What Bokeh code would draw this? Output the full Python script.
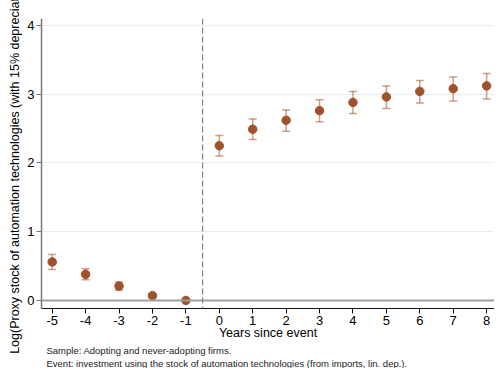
from bokeh.plotting import figure
from bokeh.models import Range1d, Whisker, ColumnDataSource, Span, Title, FixedTicker
from bokeh.embed import file_html
from bokeh.resources import INLINE

years = [-5, -4, -3, -2, -1, 0, 1, 2, 3, 4, 5, 6, 7, 8]
coef = [0.56, 0.38, 0.21, 0.07, 0.0, 2.25, 2.49, 2.62, 2.76, 2.88, 2.96, 3.04, 3.08, 3.12]
ci_low = [0.45, 0.30, 0.15, 0.04, 0.0, 2.10, 2.34, 2.46, 2.60, 2.72, 2.79, 2.87, 2.90, 2.93]
ci_high = [0.67, 0.46, 0.27, 0.09, 0.0, 2.40, 2.64, 2.77, 2.92, 3.04, 3.12, 3.20, 3.25, 3.30]
x_ticks = list(range(-5, 9))
x_tick_labels = [str(t) for t in x_ticks]
y_ticks = [0, 1, 2, 3, 4]

FONT = "Liberation Sans"
MARK = "#A0522D"

src = ColumnDataSource(dict(x=years, y=coef, lo=ci_low, hi=ci_high))

p = figure(width=494, height=368, output_backend="svg", toolbar_location=None,
           x_range=Range1d(-5.32, 8.235), y_range=Range1d(-0.117, 4.1),
           min_border_left=41, min_border_right=0, min_border_top=18, min_border_bottom=10)
p.outline_line_color = None
p.background_fill_color = "white"
p.border_fill_color = "white"

# gridlines
p.xgrid.visible = False
p.ygrid.ticker = FixedTicker(ticks=[1, 2, 3, 4])
p.ygrid.grid_line_color = "#E6EFEF"
p.ygrid.grid_line_width = 1

# reference lines
p.add_layout(Span(location=0, dimension="width", line_color="#A0A0A0", line_width=2))
p.add_layout(Span(location=-0.5, dimension="height", line_color="#808080", line_width=1.2,
                  line_dash="6 3"))

w = Whisker(base="x", upper="hi", lower="lo", source=src, line_color=MARK, line_alpha=0.55,
            line_width=1.5)
w.upper_head.size = 8
w.lower_head.size = 8
w.upper_head.line_color = MARK
w.lower_head.line_color = MARK
w.upper_head.line_alpha = 0.55
w.lower_head.line_alpha = 0.55
w.upper_head.line_width = 1.5
w.lower_head.line_width = 1.5
p.add_layout(w)

p.scatter("x", "y", source=src, size=8.5, color=MARK)

# axes
p.xaxis.ticker = FixedTicker(ticks=x_ticks)
p.xaxis.major_label_overrides = dict(zip(x_ticks, x_tick_labels))
p.yaxis.ticker = FixedTicker(ticks=y_ticks)
p.xaxis.axis_label = "Years since event"
p.yaxis.axis_label = "Log(Proxy stock of automation technologies (with 15% depreciation))"
for ax in (p.xaxis[0], p.yaxis[0]):
    ax.major_label_text_font = FONT
    ax.major_label_text_font_size = "13px"
    ax.major_label_text_color = "#000000"
    ax.axis_label_text_font = FONT
    ax.axis_label_text_font_size = "12.5px"
    ax.axis_label_text_font_style = "normal"
    ax.axis_label_text_color = "#000000"
    ax.minor_tick_line_color = None
    ax.major_tick_out = 5
    ax.major_tick_in = 0
    ax.major_label_standoff = 2
    ax.axis_label_standoff = 2
p.xaxis.axis_line_color = "#111111"
p.xaxis.major_tick_line_color = "#111111"
p.xaxis.major_label_standoff = 2
p.xaxis.axis_label_standoff = -2
p.yaxis.axis_line_color = "#777777"
p.yaxis.axis_line_width = 1.5
p.yaxis.major_tick_line_color = "#777777"
p.yaxis.major_label_orientation = "horizontal"

# notes below
note1 = Title(text="Sample: Adopting and never-adopting firms.", align="left",
              text_font=FONT, text_font_size="9.5px", text_font_style="normal",
              text_color="#222222", offset=5, standoff=0)
note2 = Title(text="Event: investment using the stock of automation technologies (from imports, lin. dep.).",
              align="left", text_font=FONT, text_font_size="9.5px", text_font_style="normal",
              text_color="#222222", offset=5, standoff=0)
p.add_layout(note1, "below")
p.add_layout(note2, "below")

open("out.html", "w").write(file_html(p, INLINE))
